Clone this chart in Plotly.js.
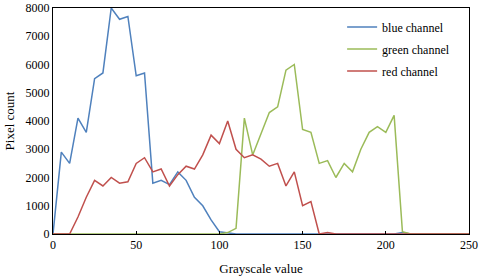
<!DOCTYPE html>
<html>
<head>
<meta charset="utf-8">
<script src="https://cdn.plot.ly/plotly-3.0.1.min.js"></script>
<style>html,body{margin:0;padding:0;background:#fff;}#chart{width:480px;height:278px;}</style>
</head>
<body>
<div id="chart"></div>
<script>
const grayscale = [0,5,10,15,20,25,30,35,40,45,50,55,60,65,70,75,80,85,90,95,100,105,110,115,120,125,130,135,140,145,150,155,160,165,170,175,180,185,190,195,200,205,210,215,220,225,230,235,240,245,250];
const blueChannel = [0,2900,2500,4100,3600,5500,5700,8000,7600,7700,5600,5700,1800,1900,1750,2200,1900,1300,1000,500,80,50,0,0,0,0,0,0,0,0,0,0,0,0,0,0,0,0,0,0,0,0,50,0,0,0,0,0,0,0,0];
const greenChannel = [0,0,0,0,0,0,0,0,0,0,0,0,0,0,0,0,0,0,0,0,0,50,200,4100,2800,3550,4300,4500,5800,6000,3700,3600,2500,2600,2000,2500,2200,3000,3600,3800,3600,4200,80,0,0,0,0,0,0,0,0];
const redChannel = [0,0,0,600,1300,1900,1700,2000,1800,1850,2500,2700,2200,2300,1700,2100,2400,2300,2800,3500,3200,4000,3000,2700,2800,2650,2400,2500,1700,2200,1000,1150,0,50,0,0,0,0,0,0,0,0,0,0,0,0,0,0,0,0,0];
const seriesNames = ['blue channel','green channel','red channel'];
const seriesColors = ['#4F81BD','#9BBB59','#C0504D'];
const seriesData = [blueChannel, greenChannel, redChannel];

const fam = '"Liberation Serif", "Times New Roman", serif';
const tickFont = {family:fam, size:12, color:'#000'};
const titleFont = {family:fam, size:13, color:'#000'};
const traces = seriesData.map((ys,i)=>({
  x: grayscale, y: ys, type:'scatter', mode:'lines', name: seriesNames[i],
  legendgroup: 'g' + i,
  line:{color: seriesColors[i], width:1.5}
}));
const layout = {
  width:480, height:278,
  margin:{l:53, r:11, t:8, b:44},
  paper_bgcolor:'#fff', plot_bgcolor:'#fff',
  font: tickFont,
  showlegend:true,
  legend:{x:0.695, y:0.98, xanchor:'left', yanchor:'top', bgcolor:'rgba(0,0,0,0)', font:tickFont, itemwidth:30, tracegroupgap:3},
  xaxis:{range:[0,250], dtick:50, tick0:0, showgrid:false, zeroline:false, showline:true, mirror:true, linecolor:'#000', linewidth:1,
    ticks:'inside', ticklen:3, tickcolor:'#000', tickfont:tickFont,
    title:{text:'Grayscale value', font:titleFont, standoff:12}},
  yaxis:{range:[0,8000], dtick:1000, tick0:0, showgrid:false, zeroline:false, showline:true, mirror:true, linecolor:'#000', linewidth:1,
    ticks:'', tickfont:tickFont,
    title:{text:'Pixel count', font:titleFont, standoff:8}}
};
Plotly.newPlot('chart', traces, layout, {displayModeBar:false, staticPlot:true});
</script>
</body>
</html>
